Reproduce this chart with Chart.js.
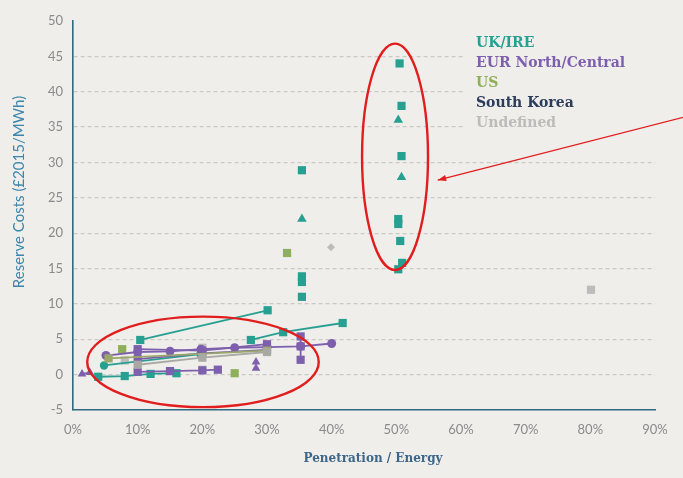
<!DOCTYPE html>
<html>
<head>
<meta charset="utf-8">
<script src="https://cdn.jsdelivr.net/npm/chart.js@4"></script>
<style>
  html, body { margin: 0; padding: 0; background: #f0eeeb; }
  #wrap { width: 683px; height: 478px; }
</style>
</head>
<body>
<div id="wrap"><canvas id="c" width="683" height="478"></canvas></div>
<script>
// Axis ranges and tick labels
const xTicks = [0, 10, 20, 30, 40, 50, 60, 70, 80, 90];
const yTicks = [-5, 0, 5, 10, 15, 20, 25, 30, 35, 40, 45, 50];
const xTitle = 'Penetration / Energy';
const yTitle = 'Reserve Costs (£2015/MWh)';

// Regions shown in the legend
const regionNames = ['UK/IRE', 'EUR North/Central', 'US', 'South Korea', 'Undefined'];
const regionColors = ['#27a092', '#7d5fae', '#8fb05a', '#2c3d5c', '#bdbcba'];

// UK/IRE studies: [penetration %, reserve cost £/MWh]
const ukHighSquares = [[50.5, 44.0], [50.8, 38.0], [50.8, 30.9], [50.3, 22.0], [50.3, 21.3], [50.6, 18.9], [50.9, 15.8], [50.3, 14.9]];
const ukHighTriangles = [[50.3, 36.0], [50.8, 27.9]];
const ukMidSquares = [[35.4, 28.9], [35.4, 13.9], [35.4, 13.1], [35.4, 11.0]];
const ukMidTriangles = [[35.4, 22.0]];
const ukLineA = [[10.4, 4.9], [30.1, 9.1]];
const ukLineB = [[27.5, 4.9], [32.5, 6.0], [41.7, 7.3]];
const ukLineC = [[4.8, 1.3], [19.7, 2.9]];
const ukLow = [[3.9, -0.3], [8.0, -0.2], [12.0, 0.1], [16.0, 0.2]];

// EUR North/Central studies
const eurCircles = [[5.1, 2.7], [10.0, 3.2], [15.0, 3.3], [19.8, 3.6], [25.0, 3.8], [30.0, 3.9], [35.2, 4.0], [40.0, 4.4]];
const eurUpper = [[10.0, 3.6], [20.0, 3.4], [30.0, 4.3]];
const eurMid = [[10.0, 2.2], [20.0, 3.0], [30.0, 3.5]];
const eurVertical = [[35.2, 5.4], [35.2, 4.0], [35.2, 2.1]];
const eurLow = [[10.0, 0.4], [15.0, 0.5], [20.0, 0.6], [22.4, 0.7]];
const eurTriLow = [[1.4, 0.1], [2.6, 0.3]];
const eurTriStack = [[28.3, 1.8], [28.3, 0.9]];

// US studies
const usLine = [[5.5, 2.3], [30.0, 3.4]];
const usPoints = [[7.6, 3.6], [33.1, 17.2], [25.0, 0.2]];

// Studies without a region
const undefLine = [[10.0, 1.4], [20.0, 2.4], [30.0, 3.2]];
const undefPoints = [[8.0, 2.0], [20.0, 3.8], [20.0, 0.7], [80.1, 12.0]];
const undefDiamond = [[39.9, 18.0]];

const toXY = arr => arr.map(p => ({ x: p[0], y: p[1] }));

function series(data, color, style, radius, line) {
  return {
    data: toXY(data),
    borderColor: color,
    backgroundColor: color,
    pointBackgroundColor: color,
    pointBorderColor: color,
    pointStyle: style,
    pointRadius: radius,
    pointBorderWidth: 0,
    showLine: !!line,
    borderWidth: 1.8,
    tension: 0
  };
}

const TEAL = regionColors[0], PURPLE = regionColors[1], GREEN = regionColors[2], GREY = regionColors[4];
const SQ = 5.8;

const datasets = [
  series(undefLine, '#a9a9a4', 'rect', SQ, true),
  series(usLine, '#9aa86a', 'rect', SQ, true),
  series(eurMid, PURPLE, 'rect', SQ, true),
  series(eurUpper, PURPLE, 'rect', SQ, true),
  series(eurCircles, PURPLE, 'circle', 4.5, true),
  series(eurVertical, PURPLE, 'rect', SQ, true),
  series(eurLow, PURPLE, 'rect', SQ, true),
  series(eurTriLow, PURPLE, 'triangle', 5, true),
  series(eurTriStack, PURPLE, 'triangle', 5, false),
  series(ukLineA, TEAL, 'rect', SQ, true),
  series(ukLineB, TEAL, 'rect', SQ, true),
  series(ukLineC, TEAL, 'circle', 4.2, true),
  series(ukLow, TEAL, 'rect', SQ, true),
  series(ukHighSquares, TEAL, 'rect', SQ, false),
  series(ukHighTriangles, TEAL, 'triangle', 5.5, false),
  series(ukMidSquares, TEAL, 'rect', SQ, false),
  series(ukMidTriangles, TEAL, 'triangle', 5.5, false),
  series(usPoints, GREEN, 'rect', SQ, false),
  series(undefPoints, GREY, 'rect', SQ, false),
  series(undefDiamond, GREY, 'rectRot', 4, false)
];

// Axis titles and legend box, drawn over the grid
const labelsPlugin = {
  id: 'labelsPlugin',
  beforeDatasetsDraw(chart) {
    const { ctx, chartArea } = chart;
    ctx.save();
    // legend
    const left = chartArea.left + 403, top = chartArea.top + 8;
    ctx.fillStyle = '#f0eeeb';
    ctx.fillRect(left - 12, top, chartArea.right - left + 12, 112);
    ctx.font = 'bold 14px "DejaVu Serif"';
    ctx.textBaseline = 'middle';
    ctx.textAlign = 'left';
    regionNames.forEach((name, i) => {
      ctx.fillStyle = regionColors[i];
      ctx.fillText(name, left, top + 14 + i * 20);
    });
    // x title
    ctx.textAlign = 'center';
    ctx.fillStyle = '#3d6688';
    ctx.font = 'bold 12px "DejaVu Serif"';
    ctx.fillText(xTitle, chartArea.left + 300, chartArea.bottom + 49);
    // y title
    ctx.translate(19, chartArea.top + 171);
    ctx.rotate(-Math.PI / 2);
    ctx.fillStyle = '#3a86ad';
    ctx.font = '15px Lato';
    ctx.fillText(yTitle, 0, 0);
    ctx.restore();
  }
};

// Red highlight ellipses and pointer arrow, placed in data units
const highlights = {
  id: 'highlights',
  afterDatasetsDraw(chart) {
    const { ctx, scales: { x, y } } = chart;
    const ellipse = (cx, cy, rx, ry) => {
      const px = x.getPixelForValue(cx), py = y.getPixelForValue(cy);
      const rpx = Math.abs(x.getPixelForValue(cx + rx) - px);
      const rpy = Math.abs(y.getPixelForValue(cy + ry) - py);
      ctx.beginPath();
      ctx.ellipse(px, py, rpx, rpy, 0, 0, Math.PI * 2);
      ctx.stroke();
    };
    ctx.save();
    ctx.strokeStyle = '#e01e1e';
    ctx.lineWidth = 2.4;
    ellipse(49.8, 30.8, 5.1, 16.0);
    ellipse(20.1, 1.8, 17.9, 6.4);
    // arrow
    const x0 = x.getPixelForValue(94.5), y0 = y.getPixelForValue(36.4);
    const x1 = x.getPixelForValue(56.4), y1 = y.getPixelForValue(27.5);
    ctx.lineWidth = 1.2;
    ctx.beginPath();
    ctx.moveTo(x0, y0);
    ctx.lineTo(x1, y1);
    ctx.stroke();
    const ang = Math.atan2(y1 - y0, x1 - x0);
    ctx.fillStyle = '#e01e1e';
    ctx.beginPath();
    ctx.moveTo(x1, y1);
    ctx.lineTo(x1 - 9 * Math.cos(ang - 0.35), y1 - 9 * Math.sin(ang - 0.35));
    ctx.lineTo(x1 - 9 * Math.cos(ang + 0.35), y1 - 9 * Math.sin(ang + 0.35));
    ctx.closePath();
    ctx.fill();
    ctx.restore();
  }
};

new Chart(document.getElementById('c'), {
  type: 'scatter',
  data: { datasets },
  plugins: [labelsPlugin, highlights],
  options: {
    responsive: false,
    animation: false,
    layout: { padding: { left: 0, right: 28, top: 21, bottom: 0 } },
    plugins: { legend: { display: false }, tooltip: { enabled: false } },
    scales: {
      x: {
        type: 'linear',
        min: xTicks[0],
        max: xTicks[xTicks.length - 1],
        afterBuildTicks: s => { s.ticks = xTicks.map(v => ({ value: v })); },
        afterFit: s => { s.height = 68; },
        grid: { display: false, drawTicks: false },
        border: { display: true, color: '#2f6a82', width: 1.6 },
        ticks: {
          padding: 12,
          color: '#8a8a8a',
          font: { family: 'Lato', size: 13 },
          callback: v => v + '%'
        }
      },
      y: {
        type: 'linear',
        min: yTicks[0],
        max: yTicks[yTicks.length - 1],
        afterBuildTicks: s => { s.ticks = yTicks.map(v => ({ value: v })); },
        afterFit: s => { s.width = 73; },
        grid: {
          drawTicks: false,
          color: c => (c.tick && (c.tick.value === 50 || c.tick.value === -5)) ? 'rgba(0,0,0,0)' : '#cbc9c6',
          lineWidth: 1.3
        },
        border: { display: true, color: '#2f6a82', width: 1.6, dash: [4, 3] },
        ticks: {
          padding: 10,
          color: '#8a8a8a',
          font: { family: 'Lato', size: 13 }
        }
      }
    }
  }
});
</script>
</body>
</html>
